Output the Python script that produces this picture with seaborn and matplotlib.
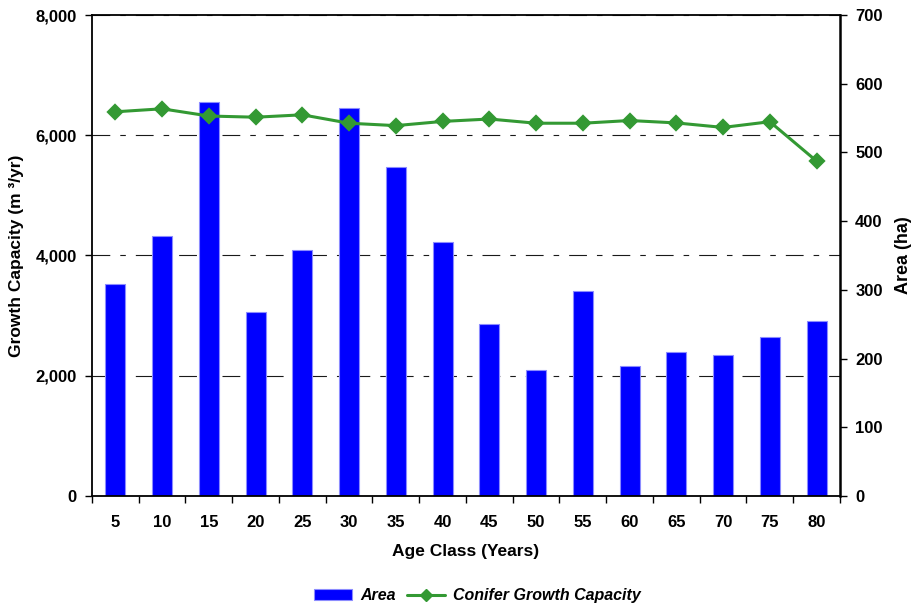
import matplotlib.pyplot as plt
import matplotlib.ticker as mticker
import numpy as np
import pandas as pd
import seaborn as sns
from matplotlib.lines import Line2D
from matplotlib.patches import Patch


AGE_CLASSES = ['5', '10', '15', '20', '25', '30', '35', '40',
               '45', '50', '55', '60', '65', '70', '75', '80']
AREA_HA = [308, 378, 574, 268, 358, 564, 479, 369,
           250, 183, 298, 189, 210, 205, 231, 254]
GROWTH_M3 = [6390, 6440, 6320, 6300, 6340, 6200, 6160, 6230,
             6270, 6200, 6200, 6245, 6205, 6130, 6225, 5570]
GROWTH_TICKS = [0, 2000, 4000, 6000, 8000]
AREA_TICKS = [0, 100, 200, 300, 400, 500, 600, 700]

BAR_BLUE = '#0000ff'
LINE_GREEN = '#339933'


def main() -> None:
  sns.set_style('white')
  plt.rcParams['font.family'] = ['Liberation Sans', 'DejaVu Sans']
  plt.rcParams['font.weight'] = 'bold'
  for key in ['text.color', 'axes.labelcolor', 'xtick.color', 'ytick.color']:
    plt.rcParams[key] = 'black'

  df = pd.DataFrame({'age': AGE_CLASSES, 'area': AREA_HA, 'growth': GROWTH_M3})

  fig = plt.figure(figsize=(9.15, 6.05), dpi=100)
  ax = fig.add_axes([0.1005, 0.1802, 0.8175, 0.795])
  ax_bar = ax.twinx()
  ax_line = ax.twinx()

  # bars (right axis, ha)
  sns.barplot(data=df, x='age', y='area', color=BAR_BLUE, saturation=1,
              width=0.43, edgecolor='#8c8cff', linewidth=0.8,
              errorbar=None, ax=ax_bar)

  # growth line (left axis scale)
  sns.pointplot(data=df, x='age', y='growth', color=LINE_GREEN, markers='D',
                markersize=7.5, linewidth=2.2, errorbar=None, ax=ax_line)

  # left axis + grid on the base layer
  ax.set_ylim(0, 8000)
  ax.set_yticks(GROWTH_TICKS)
  ax.yaxis.set_major_formatter(mticker.StrMethodFormatter('{x:,.0f}'))
  ax.yaxis.grid(True, color='0.1', linestyle=(0, (16, 9, 5, 9)), linewidth=0.8)
  ax.tick_params(axis='y', direction='out', length=5, width=1, pad=6,
                 labelsize=12, left=True)
  ax.set_ylabel('Growth Capacity (m ³/yr)', fontsize=12.5, fontweight='bold',
                labelpad=8)
  for s in ax.spines.values():
    s.set_visible(False)

  ax_line.set_ylim(0, 8000)
  ax_line.yaxis.set_visible(False)
  for name, s in ax_line.spines.items():
    s.set_color('black')
    s.set_linewidth(1.8 if name == 'right' else 1.3)

  # right axis
  ax_bar.set_ylim(0, 700)
  ax_bar.set_yticks(AREA_TICKS)
  ax_bar.tick_params(axis='y', direction='out', length=5, width=1, pad=6,
                     labelsize=12, right=True)
  ax_bar.set_ylabel('Area (ha)', fontsize=13, fontweight='bold', labelpad=9)
  for s in ax_bar.spines.values():
    s.set_visible(False)

  # x axis: labels at centres, ticks between categories
  n = len(AGE_CLASSES)
  ax.set_xlim(-0.5, n - 0.5)
  ax.set_xticks(range(n))
  ax.set_xticklabels(AGE_CLASSES)
  ax.set_xticks(np.arange(n + 1) - 0.5, minor=True)
  ax.tick_params(axis='x', which='major', length=0, pad=14, labelsize=12)
  ax.tick_params(axis='x', which='minor', direction='out', length=5, width=1,
                 bottom=True)
  ax.set_xlabel('Age Class (Years)', fontsize=12.5, fontweight='bold',
                labelpad=10)

  handles = [
    Patch(facecolor=BAR_BLUE, edgecolor='#8c8cff', linewidth=0.8),
    Line2D([], [], color=LINE_GREEN, marker='D', markersize=6.5, linewidth=2.2),
  ]
  fig.legend(handles, ['Area', 'Conifer Growth Capacity'], loc='center',
             bbox_to_anchor=(0.522, 0.015), ncol=2, frameon=False,
             prop=dict(style='italic', weight='bold', size=11.5),
             handlelength=2.4, columnspacing=0.7, handletextpad=0.5)

  fig.savefig('out.png', dpi=100)


if __name__ == '__main__':
  main()
